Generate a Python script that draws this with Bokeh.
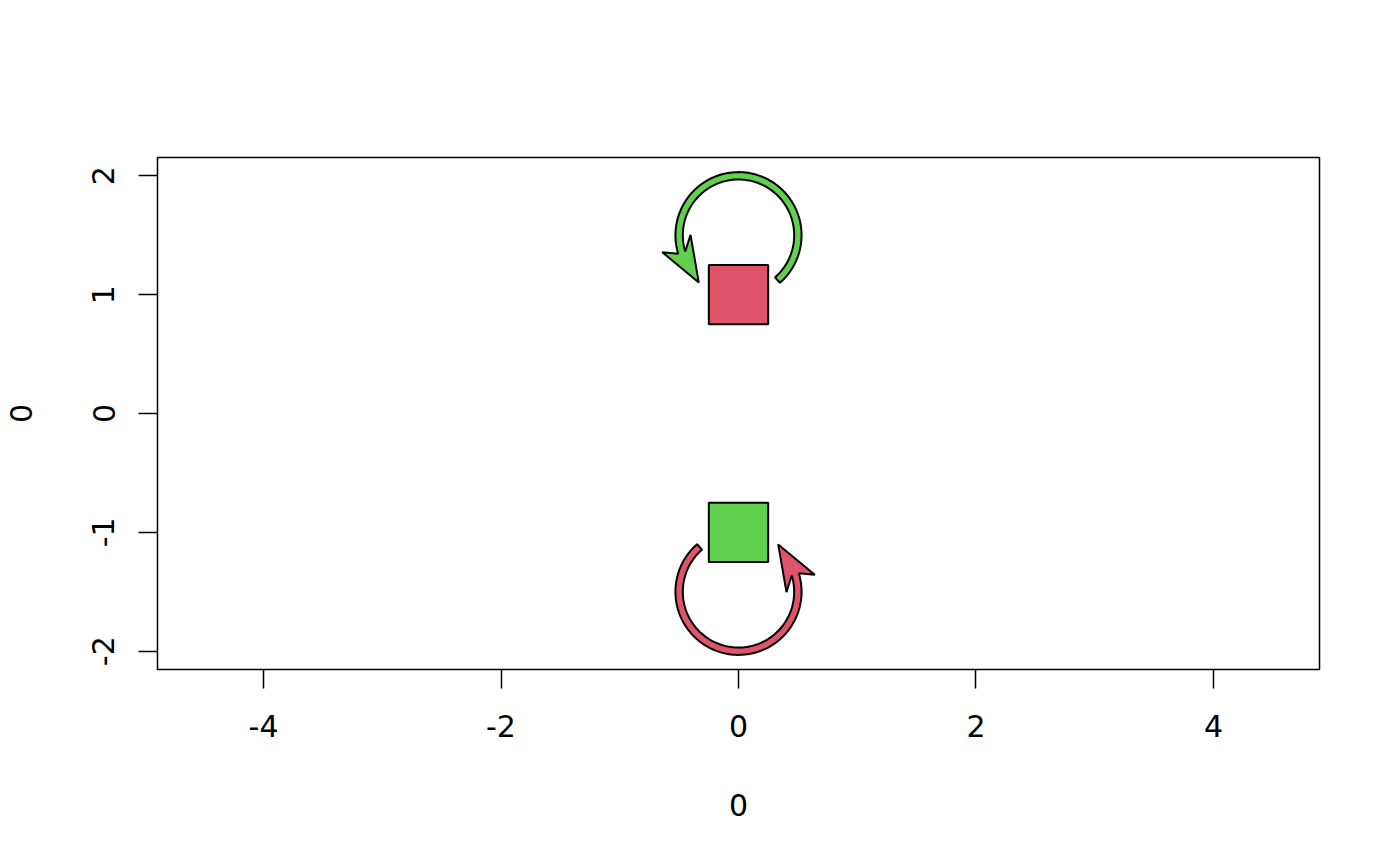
import numpy as np
from bokeh.plotting import figure
from bokeh.models import Range1d, FixedTicker
from bokeh.embed import file_html
from bokeh.resources import INLINE

# nodes (squares)
node_x = [0, 0]
node_y = [1, -1]
node_colors = ["#DF536B", "#61D04F"]
node_side = 0.5

# self loops above / below each node
loop_cx = [0, 0]
loop_cy = [1.5, -1.5]
loop_rot = [0, 180]          # degrees
loop_colors = ["#61D04F", "#DF536B"]
loop_r = 0.5
loop_half = 0.031
loop_start = -49             # tail angle
loop_end = 197               # where the head begins

# arrow head, polar (r, angle in degrees) around loop centre
head_r = [0.658, 0.520, 0.404]
head_a = [192.5, 230.0, 179.6]

x_ticks = [-4, -2, 0, 2, 4]
y_ticks = [-2, -1, 0, 1, 2]


def loop_shape(cx, cy, rot):
    a = np.radians(np.linspace(loop_start, loop_end, 120) + rot)
    ro = loop_r + loop_half
    ri = loop_r - loop_half
    xs = list(cx + ro * np.cos(a))
    ys = list(cy + ro * np.sin(a))
    for r, ang in zip(head_r, head_a):
        t = np.radians(ang + rot)
        xs.append(cx + r * np.cos(t))
        ys.append(cy + r * np.sin(t))
    xs += list(cx + ri * np.cos(a[::-1]))
    ys += list(cy + ri * np.sin(a[::-1]))
    return xs, ys


p = figure(width=1392, height=858, output_backend="svg", toolbar_location=None,
           x_range=Range1d(-4.893, 4.893), y_range=Range1d(-2.154, 2.154),
           min_border_left=157, min_border_right=73, min_border_top=157, min_border_bottom=189)
p.background_fill_color = "white"
p.border_fill_color = "white"
p.grid.visible = False
p.outline_line_color = "black"
p.outline_line_width = 1.5

lx, ly = [], []
for cx, cy, rot in zip(loop_cx, loop_cy, loop_rot):
    xs, ys = loop_shape(cx, cy, rot)
    lx.append(xs)
    ly.append(ys)
p.patches(lx, ly, fill_color=loop_colors, line_color="black", line_width=2)

h = node_side / 2
p.quad(left=[x - h for x in node_x], right=[x + h for x in node_x],
       bottom=[y - h for y in node_y], top=[y + h for y in node_y],
       fill_color=node_colors, line_color="black", line_width=2)

p.xaxis.ticker = FixedTicker(ticks=x_ticks)
p.yaxis.ticker = FixedTicker(ticks=y_ticks)
p.xaxis.major_label_overrides = {t: str(t) for t in x_ticks}
p.yaxis.major_label_overrides = {t: str(t) for t in y_ticks}
p.xaxis.axis_label = "0"
p.yaxis.axis_label = "0"
p.yaxis.major_label_orientation = "vertical"

for ax in (p.xaxis, p.yaxis):
    ax.axis_line_color = None
    ax.major_tick_out = 19
    ax.major_tick_in = 0
    ax.major_tick_line_width = 1.5
    ax.major_tick_line_color = "black"
    ax.minor_tick_line_color = None
    ax.major_label_text_font = "DejaVu Sans"
    ax.major_label_text_font_size = "30px"
    ax.major_label_text_color = "black"
    ax.axis_label_text_font = "DejaVu Sans"
    ax.axis_label_text_font_size = "30px"
    ax.axis_label_text_font_style = "normal"
    ax.axis_label_text_color = "black"

p.xaxis.major_label_standoff = 26
p.yaxis.major_label_standoff = 24
p.xaxis.axis_label_standoff = 54
p.yaxis.axis_label_standoff = 58

open("out.html", "w").write(file_html(p, INLINE))
